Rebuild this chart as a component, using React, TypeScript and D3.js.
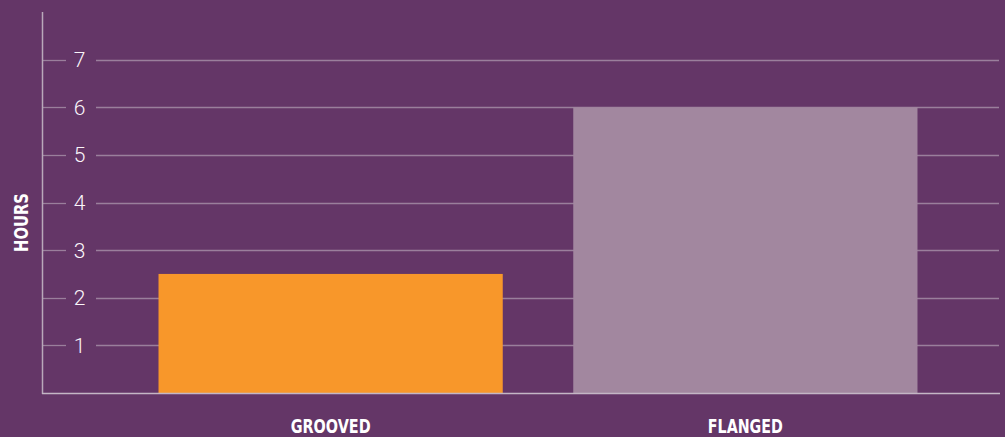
import { useRef, useEffect } from "react";
import * as d3 from "d3";

const WIDTH = 1005;
const HEIGHT = 437;

const CATEGORIES = ["GROOVED", "FLANGED"];
const LABEL_WIDTHS = [80, 75];
const HOURS = [2.5, 6];
const BAR_COLORS = ["#F8972A", "#A2879F"];
const TICKS = [1, 2, 3, 4, 5, 6, 7];

const BG = "#643667";

export default function App() {
  const svgRef = useRef<SVGSVGElement>(null);

  useEffect(() => {
    const svg = d3.select(svgRef.current);
    svg.selectAll("*").remove();

    const y = d3.scaleLinear([0, 8], [393, 12]);
    const x = d3
      .scaleBand<string>()
      .domain(CATEGORIES)
      .range([88, 988])
      .paddingInner(0.17)
      .paddingOuter(0.17);

    svg.append("rect").attr("width", WIDTH).attr("height", HEIGHT).attr("fill", BG);

    // grid lines, broken around the label
    const grid = svg.append("g");
    grid
      .selectAll("line.l")
      .data(TICKS)
      .join("line")
      .attr("x1", 43)
      .attr("x2", 66)
      .attr("y1", (d) => Math.round(y(d)) + 0.5)
      .attr("y2", (d) => Math.round(y(d)) + 0.5)
      .attr("stroke", "#9a7f9c")
      .attr("stroke-width", 1.3);
    grid
      .selectAll("line.r")
      .data(TICKS)
      .join("line")
      .attr("x1", 96)
      .attr("x2", 999)
      .attr("y1", (d) => Math.round(y(d)) + 0.5)
      .attr("y2", (d) => Math.round(y(d)) + 0.5)
      .attr("stroke", "#9a7f9c")
      .attr("stroke-width", 1.3);

    grid
      .selectAll("text")
      .data(TICKS)
      .join("text")
      .attr("x", 79.5)
      .attr("y", (d) => y(d))
      .attr("dy", "0.36em")
      .attr("text-anchor", "middle")
      .attr("fill", "#faf5fa")
      .attr("font-family", "Roboto, sans-serif")
      .attr("font-weight", 300)
      .attr("font-size", 21)
      .text((d) => d);

    // bars
    svg
      .append("g")
      .selectAll("rect")
      .data(HOURS)
      .join("rect")
      .attr("x", (_d, i) => x(CATEGORIES[i])!)
      .attr("width", x.bandwidth())
      .attr("y", (d) => y(d))
      .attr("height", (d) => y(0) - y(d))
      .attr("fill", (_d, i) => BAR_COLORS[i]);

    // axes
    svg
      .append("line")
      .attr("x1", 42.5)
      .attr("x2", 42.5)
      .attr("y1", 12)
      .attr("y2", 394)
      .attr("stroke", "#b9a9ba")
      .attr("stroke-width", 1.5);
    svg
      .append("line")
      .attr("x1", 42)
      .attr("x2", 1000)
      .attr("y1", 393.5)
      .attr("y2", 393.5)
      .attr("stroke", "#c4b6c5")
      .attr("stroke-width", 1.5);

    // category labels
    svg
      .append("g")
      .selectAll("text")
      .data(CATEGORIES)
      .join("text")
      .attr("x", (d, i) => x(d)! + x.bandwidth() / 2 - LABEL_WIDTHS[i] / 2)
      .attr("y", 433)
      .attr("fill", "#ffffff")
      .attr("font-family", "'DejaVu Sans', sans-serif")
      .attr("font-weight", "bold")
      .attr("font-size", 19.5)
      .attr("textLength", (_d, i) => LABEL_WIDTHS[i])
      .attr("lengthAdjust", "spacingAndGlyphs")
      .text((d) => d);

    svg
      .append("text")
      .attr("transform", "translate(28,252) rotate(-90)")
      .attr("fill", "#ffffff")
      .attr("font-family", "'DejaVu Sans', sans-serif")
      .attr("font-weight", "bold")
      .attr("font-size", 20)
      .attr("textLength", 59)
      .attr("lengthAdjust", "spacingAndGlyphs")
      .text("HOURS");
  }, []);

  return (
    <svg
      ref={svgRef}
      width={WIDTH}
      height={HEIGHT}
      style={{ position: "fixed", left: 0, top: 0, display: "block" }}
    />
  );
}
